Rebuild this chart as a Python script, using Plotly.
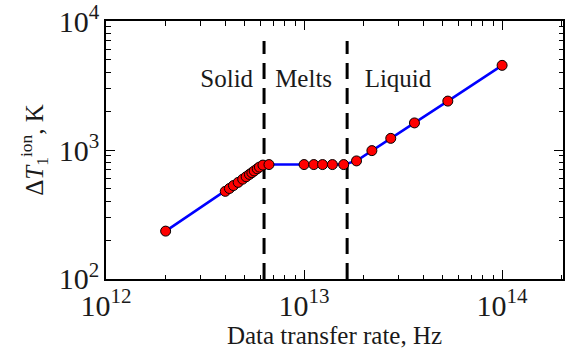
import numpy as np
import plotly.graph_objects as go

# Data transfer rate (Hz) and temperature rise (K)
rate_solid = [2.0e12, 4.0e12, 4.2e12, 4.4e12, 4.65e12, 4.9e12, 5.1e12, 5.3e12,
              5.45e12, 5.6e12, 5.8e12, 5.95e12, 6.2e12, 6.65e12]
dT_solid = [235, 478, 503, 530, 561, 594, 620, 647, 667, 688, 715, 737, 764, 771]
rate_melt = [1.0e13, 1.12e13, 1.24e13, 1.39e13, 1.585e13]
dT_melt = [771, 771, 771, 771, 771]
rate_liquid = [1.84e13, 2.2e13, 2.74e13, 3.61e13, 5.32e13, 1.0e14]
dT_liquid = [823, 989, 1231, 1622, 2394, 4530]

boundaries = [6.28e12, 1.65e13]
boundary_y = [100, 7000]

region_labels = ["Solid", "Melts", "Liquid"]
region_x = [4.07e12, 9.95e12, 2.98e13]
region_y = [3450, 3450, 3450]

rate = rate_solid + rate_melt + rate_liquid
dT = dT_solid + dT_melt + dT_liquid

FONT = "Liberation Serif"
TXT = "#1a1a1a"
fig = go.Figure()

for b in boundaries:
    fig.add_trace(go.Scatter(x=[b, b], y=boundary_y, mode="lines",
                             line=dict(color="black", width=3, dash="16px,9px"),
                             showlegend=False, hoverinfo="skip"))

fig.add_trace(go.Scatter(x=rate, y=dT, mode="lines+markers",
                         line=dict(color="#0000ff", width=2.5),
                         marker=dict(color="#ff0000", size=10,
                                     line=dict(color="black", width=1)),
                         showlegend=False))

fig.add_trace(go.Scatter(x=region_x, y=region_y, mode="text", text=region_labels,
                         textposition="middle center",
                         textfont=dict(family=FONT, size=25, color=TXT),
                         showlegend=False, hoverinfo="skip"))

axis_common = dict(
    type="log", dtick=1, exponentformat="power", showgrid=False, zeroline=False,
    showline=True, linewidth=2, linecolor="black", mirror="allticks",
    ticks="inside", ticklen=9, tickwidth=1.2, tickcolor="black",
    minor=dict(ticks="inside", ticklen=4.5, tickwidth=1.2, tickcolor="black",
               dtick="D1", showgrid=False),
    tickfont=dict(family=FONT, size=24, color=TXT),
    ticklabeloverflow="allow", automargin=False,
)

fig.update_layout(
    width=572, height=353,
    margin=dict(l=106, r=9, t=21, b=74),
    paper_bgcolor="white", plot_bgcolor="white",
    xaxis=dict(axis_common, range=[12 - 1e-4, np.log10(2.03e14)],
               title=dict(text="Data transfer rate, Hz",
                          font=dict(family=FONT, size=25, color=TXT),
                          standoff=6)),
    yaxis=dict(axis_common, range=[2 - 1e-4, 4 + 1e-4],
               title=dict(text="Δ<i>T</i><sub>1</sub><sup>ion</sup>, K",
                          font=dict(family=FONT, size=25, color=TXT),
                          standoff=8)),
)

fig.write_html("out.html")
